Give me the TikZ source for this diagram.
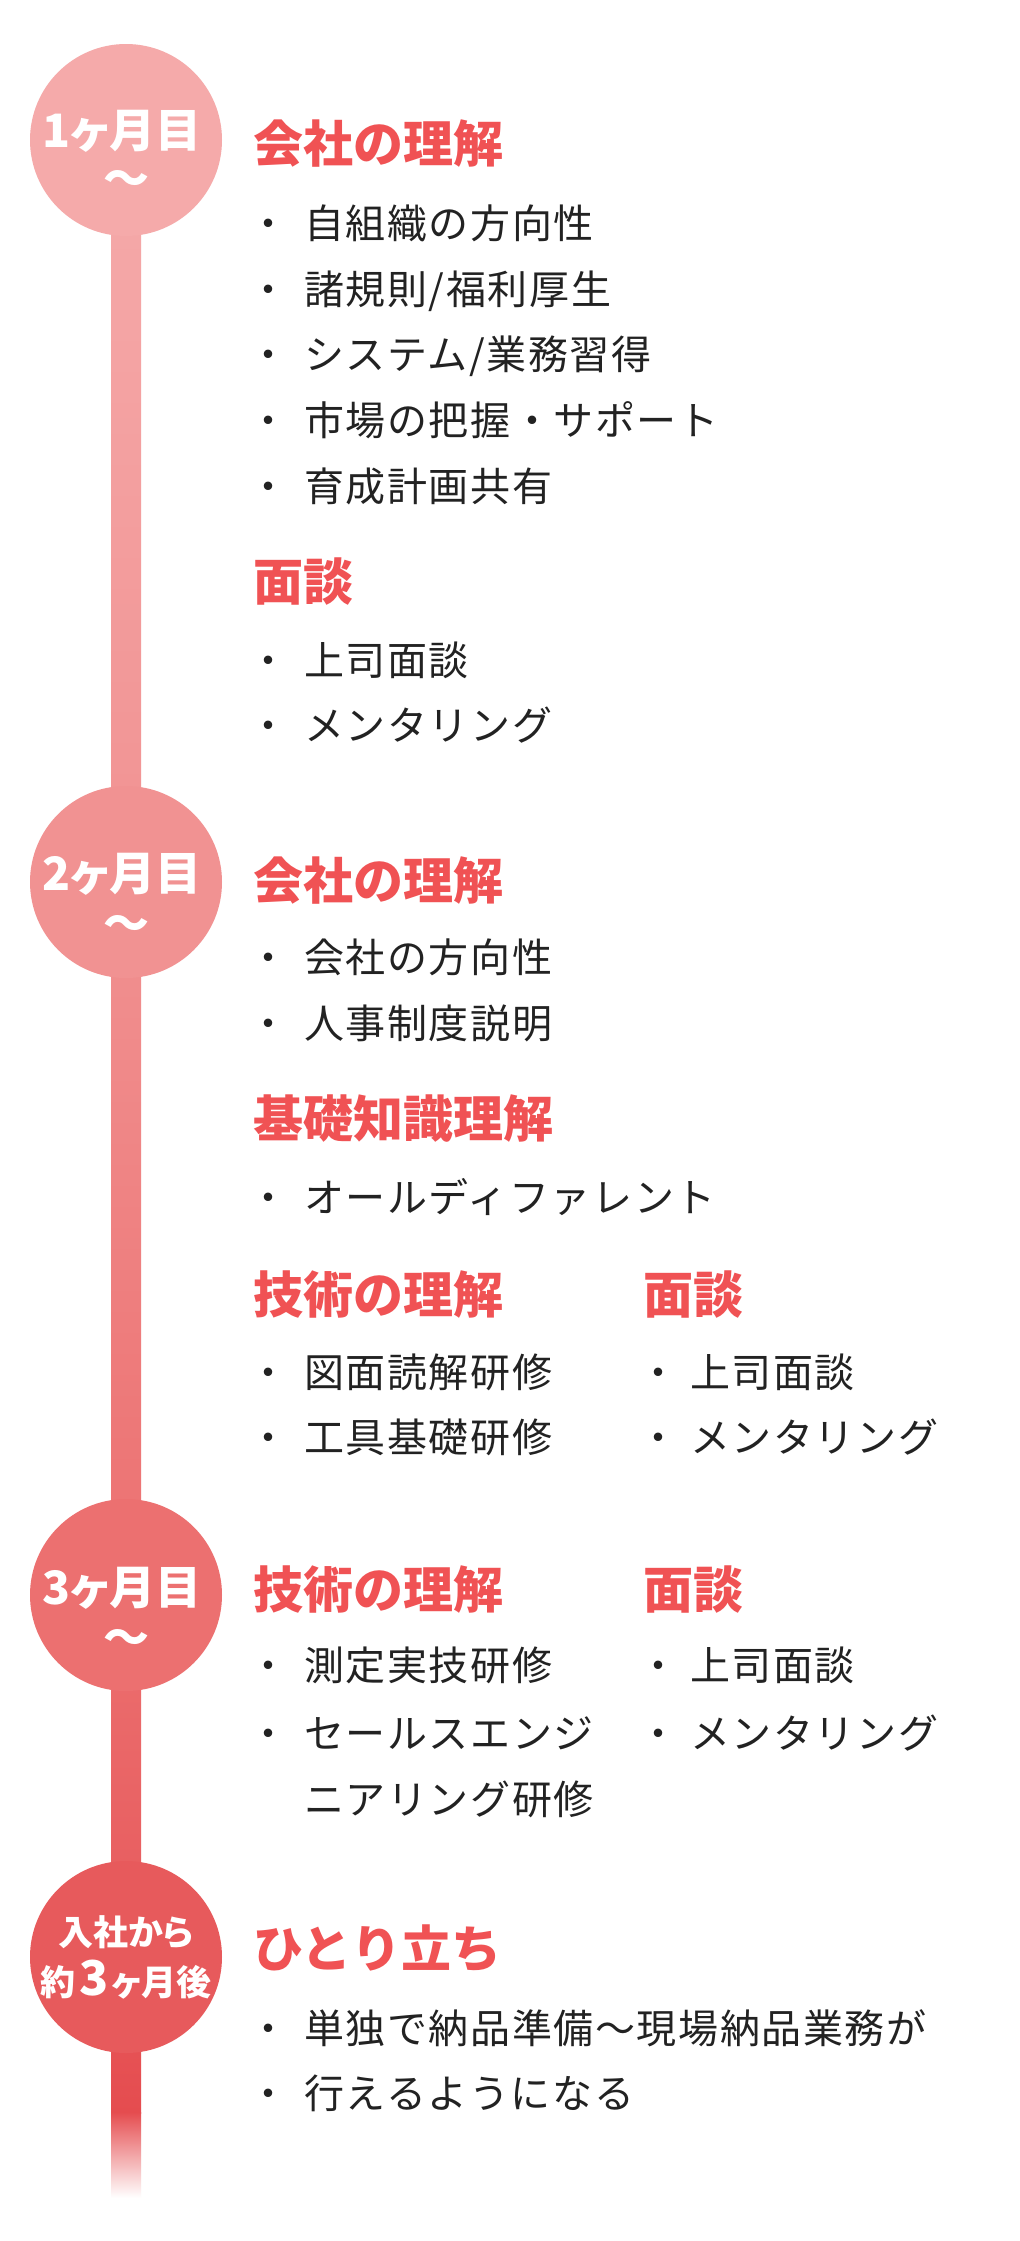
\documentclass[tikz,border=0pt]{standalone}
\usepackage{fontspec}
\setmainfont{Noto Sans CJK JP}
\newfontfamily\itemfont{Noto Sans CJK JP}[LetterSpace=4]
\newfontfamily\headfont{Noto Sans CJK JP}
\newfontfamily\circfont{Noto Sans CJK JP}[RawFeature=+palt]
\definecolor{cA}{RGB}{245,170,170}
\definecolor{cB}{RGB}{241,146,146}
\definecolor{cC}{RGB}{236,112,112}
\definecolor{cD}{RGB}{231,90,92}
\definecolor{cE}{RGB}{229,76,79}
\definecolor{headred}{RGB}{240,82,84}
\definecolor{txtdark}{RGB}{34,34,34}
\tikzset{
  head/.style={anchor=base west, inner sep=0pt, text=headred, font=\headfont\bfseries\fontsize{50}{60}\selectfont},
  item/.style={anchor=base west, inner sep=0pt, text=txtdark, font=\itemfont\fontsize{40}{48}\selectfont},
  bul/.style={anchor=base, inner sep=0pt, text=txtdark, font=\itemfont\fontsize{40}{48}\selectfont},
  month/.style={circle, inner sep=0pt, minimum size=192pt},
  ctext/.style={anchor=base, inner sep=0pt, text=white, font=\circfont\bfseries\fontsize{46}{52}\selectfont},
  csmall/.style={anchor=base, inner sep=0pt, text=white, font=\circfont\bfseries\fontsize{35}{40}\selectfont},
}
\begin{document}
\begin{tikzpicture}[x=1pt,y=-1pt]
\useasboundingbox (0,0) rectangle (1020,2241);
\fill[white] (0,0) rectangle (1020,2241);
% timeline bar
\shade[top color=cA, bottom color=cB] (111,140) rectangle (141,882);
\shade[top color=cB, bottom color=cC] (111,881) rectangle (141,1595);
\shade[top color=cC, bottom color=cD] (111,1594) rectangle (141,1957);
\shade[top color=cD, bottom color=cE] (111,1956) rectangle (141,2113);
\shade[top color=cE, bottom color=white] (111,2112) rectangle (141,2198);
% circles
\node[month, fill=cA] (m1) at (126,140) {};
\node[month, fill=cB] (m2) at (126,882) {};
\node[month, fill=cC] (m3) at (126,1595) {};
\node[month, fill=cD] (m4) at (126,1957) {};
\node[ctext] (m1a) at (122,147) {1ヶ月目};
\node[ctext] (m1b) at (126,195) {〜};
\node[ctext] (m2a) at (122,890) {2ヶ月目};
\node[ctext] (m2b) at (126,940) {〜};
\node[ctext] (m3a) at (122,1604) {3ヶ月目};
\node[ctext] (m3b) at (126,1654) {〜};
\node[csmall] (m4a) at (126,1945) {入社から};
\node[csmall] (m4b) at (126,1995) {約\hspace{4pt}{\fontsize{48}{52}\selectfont 3}\hspace{3pt}ヶ月後};
% section 1
\node[head] (h1) at (253,162) {会社の理解};
\node[bul] (b11) at (268,238) {・}; \node[item] (t11) at (304,238) {自組織の方向性};
\node[bul] (b12) at (268,304) {・}; \node[item] (t12) at (304,304) {諸規則/福利厚生};
\node[bul] (b13) at (268,369) {・}; \node[item] (t13) at (304,369) {システム/業務習得};
\node[bul] (b14) at (268,435) {・}; \node[item] (t14) at (304,435) {市場の把握・サポート};
\node[bul] (b15) at (268,501) {・}; \node[item] (t15) at (304,501) {育成計画共有};
\node[head] (h2) at (253,600) {面談};
\node[bul] (b21) at (268,675) {・}; \node[item] (t21) at (304,675) {上司面談};
\node[bul] (b22) at (268,740) {・}; \node[item] (t22) at (304,740) {メンタリング};
% section 2
\node[head] (h3) at (253,899) {会社の理解};
\node[bul] (b31) at (268,972) {・}; \node[item] (t31) at (304,972) {会社の方向性};
\node[bul] (b32) at (268,1038) {・}; \node[item] (t32) at (304,1038) {人事制度説明};
\node[head] (h4) at (253,1137) {基礎知識理解};
\node[bul] (b41) at (268,1212) {・}; \node[item] (t41) at (304,1212) {オールディファレント};
\node[head] (h5) at (253,1313) {技術の理解};
\node[bul] (b51) at (268,1387) {・}; \node[item] (t51) at (304,1387) {図面読解研修};
\node[bul] (b52) at (268,1452) {・}; \node[item] (t52) at (304,1452) {工具基礎研修};
\node[head] (h6) at (643,1313) {面談};
\node[bul] (b61) at (658,1387) {・}; \node[item] (t61) at (690,1387) {上司面談};
\node[bul] (b62) at (658,1452) {・}; \node[item] (t62) at (690,1452) {メンタリング};
% section 3
\node[head] (h7) at (253,1608) {技術の理解};
\node[bul] (b71) at (268,1680) {・}; \node[item] (t71) at (304,1680) {測定実技研修};
\node[bul] (b72) at (268,1748) {・}; \node[item] (t72) at (304,1748) {セールスエンジ};
\node[item] (t73) at (304,1814) {ニアリング研修};
\node[head] (h8) at (643,1608) {面談};
\node[bul] (b81) at (658,1680) {・}; \node[item] (t81) at (690,1680) {上司面談};
\node[bul] (b82) at (658,1748) {・}; \node[item] (t82) at (690,1748) {メンタリング};
% section 4
\node[head] (h9) at (253,1967) {ひとり立ち};
\node[bul] (b91) at (268,2043) {・}; \node[item] (t91) at (304,2043) {単独で納品準備〜現場納品業務が};
\node[bul] (b92) at (268,2108) {・}; \node[item] (t92) at (304,2108) {行えるようになる};
\end{tikzpicture}
\end{document}
